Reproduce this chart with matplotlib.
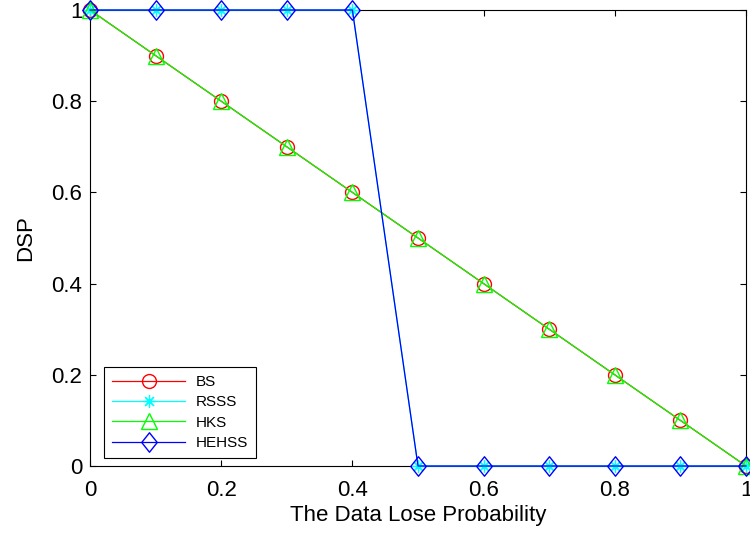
import matplotlib
matplotlib.use('Agg')
import matplotlib.pyplot as plt
from matplotlib.path import Path

plt.rcParams['font.family'] = ['Liberation Sans', 'DejaVu Sans']

# data loss probability
x = [0, 0.1, 0.2, 0.3, 0.4, 0.5, 0.6, 0.7, 0.8, 0.9, 1.0]
bs = [1, 0.9, 0.8, 0.7, 0.6, 0.5, 0.4, 0.3, 0.2, 0.1, 0]
rsss = [1, 1, 1, 1, 1, 0, 0, 0, 0, 0, 0]
hks = [1, 0.9, 0.8, 0.7, 0.6, 0.5, 0.4, 0.3, 0.2, 0.1, 0]
hehss = [1, 1, 1, 1, 1, 0, 0, 0, 0, 0, 0]

# matlab-like diamond (taller than wide)
diamond = Path([(0, 1), (0.8, 0), (0, -1), (-0.8, 0), (0, 1)],
               [Path.MOVETO, Path.LINETO, Path.LINETO, Path.LINETO, Path.CLOSEPOLY])

fig = plt.figure(figsize=(7.5, 5.38), dpi=100)
ax = fig.add_axes([90 / 750, 72 / 538, 656 / 750, 456 / 538])

lw = 0.9
kw = dict(lw=lw, clip_on=False, zorder=3)
ax.plot(x, bs, '-', marker='o', color='red', mfc='none', mec='red', ms=10, label='BS', **kw)
ax.plot(x, rsss, '-', marker=(8, 2, 0), color='cyan', mec='cyan', ms=9, mew=0.9, label='RSSS', **kw)
ax.plot(x, hks, '-', marker='^', color='#00ff00', mfc='none', mec='#00ff00', ms=12, label='HKS', **kw)
ax.plot(x, hehss, '-', marker=diamond, color='blue', mfc='none', mec='blue', ms=14, label='HEHSS', **kw)

ax.set_xlim(0, 1)
ax.set_ylim(0, 1)
ax.set_xticks([0, 0.2, 0.4, 0.6, 0.8, 1])
ax.set_xticklabels(['0', '0.2', '0.4', '0.6', '0.8', '1'])
ax.set_yticks([0, 0.2, 0.4, 0.6, 0.8, 1])
ax.set_yticklabels(['0', '0.2', '0.4', '0.6', '0.8', '1'])
ax.tick_params(direction='in', top=True, right=True, length=4, width=0.8, labelsize=16)
ax.tick_params(axis='x', pad=10)
ax.tick_params(axis='y', pad=5.5)
for s in ax.spines.values():
    s.set_linewidth(0.8)

ax.set_xlabel('The Data Lose Probability', fontsize=16, labelpad=3)
ax.set_ylabel('DSP', fontsize=16, labelpad=11)

leg = ax.legend(loc='lower left', bbox_to_anchor=(0.022, 0.018), borderaxespad=0,
                fontsize=11, handlelength=4.8, labelspacing=0.42, fancybox=False,
                edgecolor='black', framealpha=1, borderpad=0.5, handletextpad=0.7)
leg.get_frame().set_linewidth(0.8)

fig.savefig('out.png', dpi=100)
